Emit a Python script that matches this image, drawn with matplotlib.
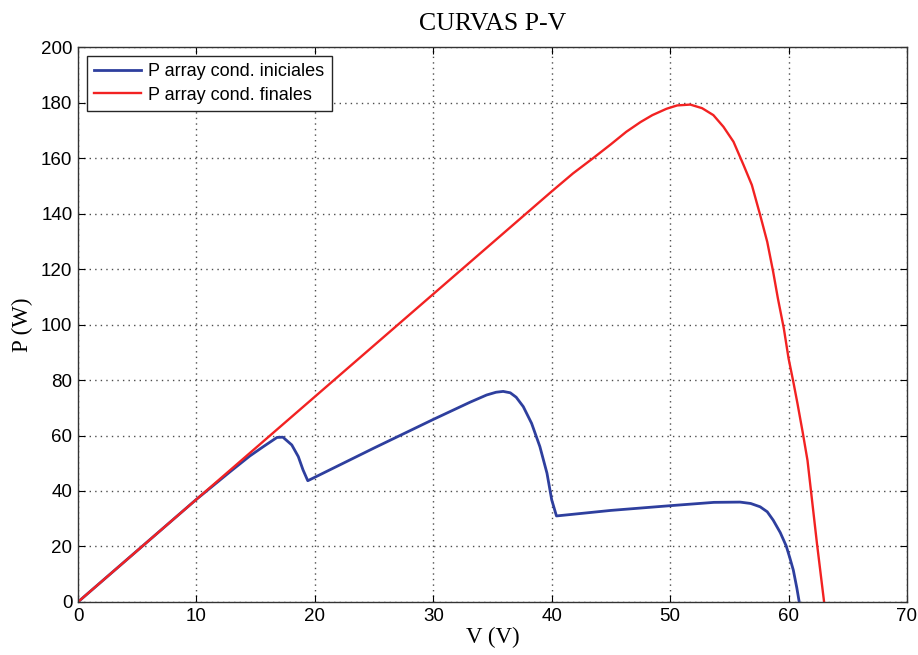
import matplotlib.pyplot as plt
import numpy as np

# P-V curve samples (V in volts, P in watts)
v_ini = [0, 5, 10, 12.8, 14.5, 15.65, 16.8, 17.3, 18.05, 18.6, 19.0, 19.4,
         20.4, 25, 30, 33.1, 34.5, 35.3, 35.9, 36.5, 37.0, 37.6, 38.3, 39.0, 39.6,
         40.0, 40.4, 45, 50, 53.7, 55.9, 56.8, 57.6, 58.2, 58.7, 59.3, 59.8, 60.1,
         60.4, 60.7, 60.9]
p_ini = [0, 18.5, 37, 46.8, 52.6, 56.0, 59.3, 59.4, 56.6, 52.4, 47.6, 43.7,
         45.8, 55.5, 65.8, 72.0, 74.6, 75.6, 75.9, 75.4, 73.8, 70.4, 64.4, 56.0, 46.4,
         36.8, 31.0, 33, 34.7, 35.9, 36, 35.5, 34.3, 32.5, 29.5, 25, 20.2, 16,
         11.5, 5, 0]

v_fin = [0, 10, 20, 30, 40, 41.8, 43.5, 45, 46.3, 47.5, 48.5, 49.7, 50.6, 51.7,
         52.7, 53.65, 54.5, 55.35, 56.2, 56.9, 57.6, 58.2, 58.7, 59.1, 59.6, 60.0,
         60.4, 60.75, 61.2, 61.6, 62.0, 62.4, 62.7, 63.0]
p_fin = [0, 37, 74, 111, 148, 154.5, 160, 165, 169.5, 173, 175.5, 177.8, 179, 179.3,
         178, 175.5, 171.3, 165.9, 157.5, 150.3, 139.5, 129.8, 119.0, 109.4, 98.6, 87.8,
         79.4, 71.6, 61, 51, 36, 21, 10.5, 0]

x_ticks = np.arange(0, 71, 10)
y_ticks = np.arange(0, 201, 20)

serif = ['Liberation Serif', 'DejaVu Serif']
sans = ['Liberation Sans', 'DejaVu Sans']

fig = plt.figure(figsize=(9.18, 6.55), dpi=100)
ax = fig.add_axes([0.085, 0.081, 0.903, 0.847])

ax.plot(v_ini, p_ini, color='#2E3F9E', lw=2.0, label='P array cond. iniciales',
        solid_joinstyle='round')
ax.plot(v_fin, p_fin, color='#F22222', lw=1.7, label='P array cond. finales',
        solid_joinstyle='round')

ax.set_xlim(0, 70)
ax.set_ylim(0, 200)
ax.set_xticks(x_ticks)
ax.set_yticks(y_ticks)
ax.tick_params(direction='in', top=True, right=True, length=5, width=0.8,
               labelsize=13.5, pad=4)
for lbl in ax.get_xticklabels() + ax.get_yticklabels():
    lbl.set_family(sans)
ax.grid(True, linestyle=(0, (1, 3)), color='0.3', lw=1.0)
for s in ax.spines.values():
    s.set_linewidth(1.0)
    s.set_color('0.2')

ax.set_title('CURVAS P-V', family=serif, fontsize=18.5, pad=12)
ax.set_xlabel('V (V)', family=serif, fontsize=16.5, labelpad=2)
ax.set_ylabel('P (W)', family=serif, fontsize=16.5, labelpad=6)

leg = ax.legend(loc='upper left', prop={'family': sans, 'size': 13},
                handlelength=2.6, fancybox=False, framealpha=1,
                borderaxespad=0.5, labelspacing=0.35, handletextpad=0.4)
leg.get_frame().set_edgecolor('0.15')
leg.get_frame().set_linewidth(1.0)

fig.savefig('out.png', dpi=100, facecolor='white')
